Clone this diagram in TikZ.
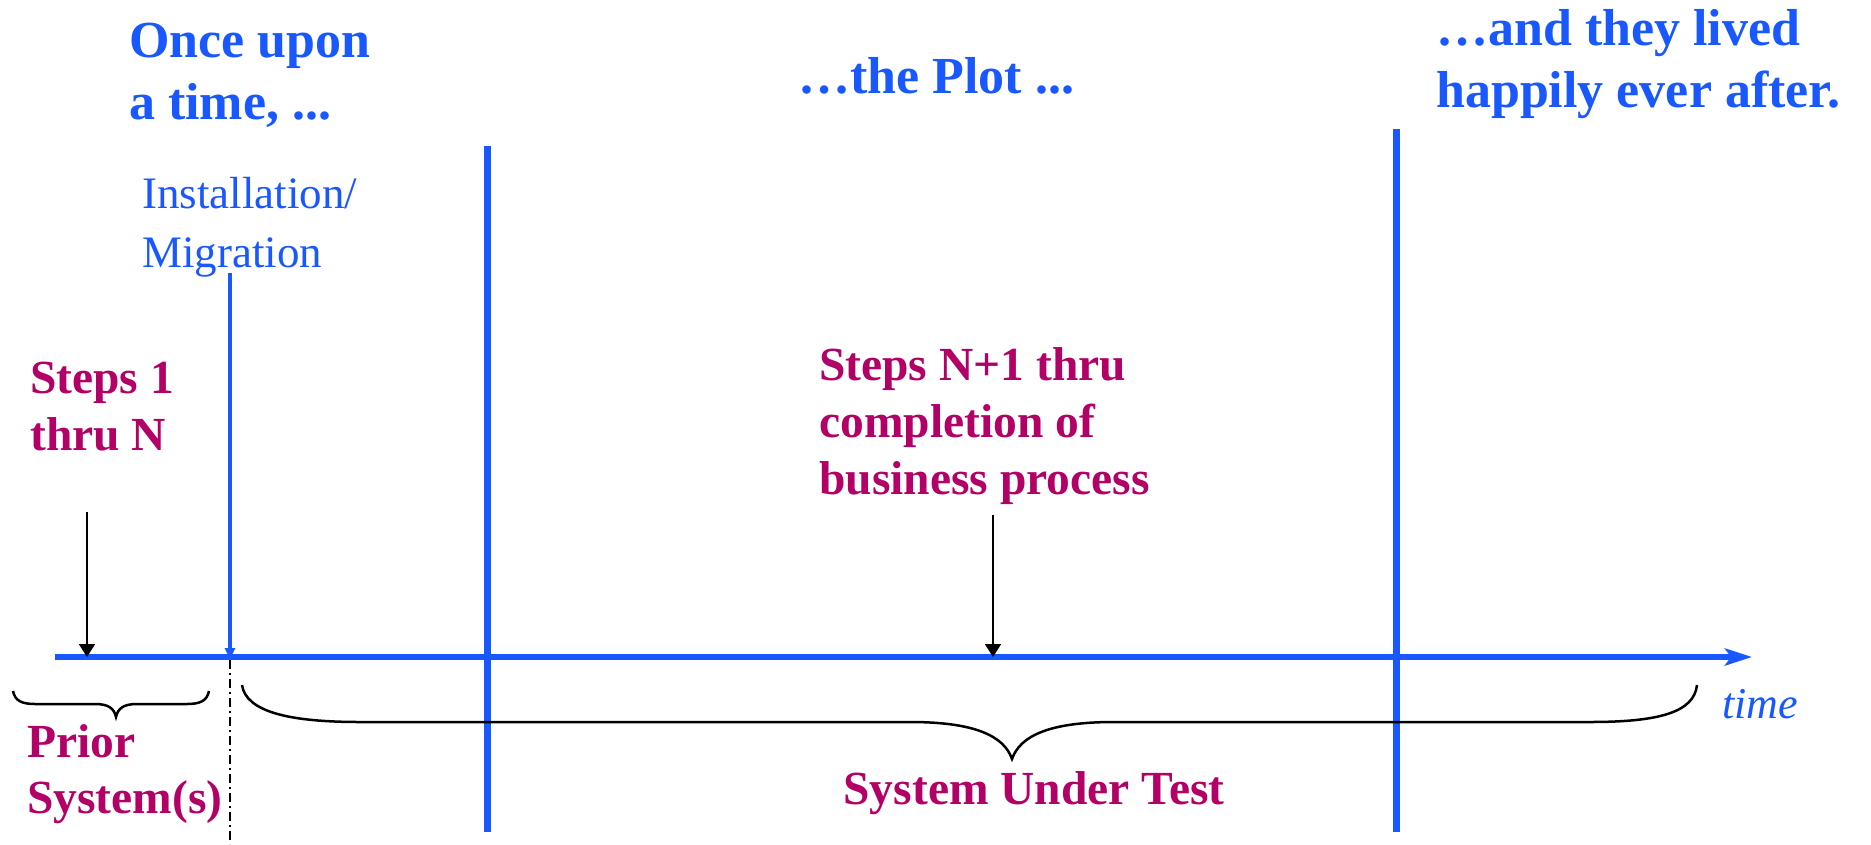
\documentclass[tikz,border=0pt]{standalone}
\usepackage{fontspec}
\setmainfont{Liberation Serif}
\usetikzlibrary{arrows.meta}
\definecolor{storyblue}{RGB}{25,88,255}
\definecolor{stepmag}{RGB}{178,0,102}
\tikzset{
  headtext/.style={anchor=base west, inner sep=0pt, align=left, text=storyblue,
    font=\fontsize{52}{62}\selectfont\bfseries},
  steptext/.style={anchor=base west, inner sep=0pt, align=left, text=stepmag,
    font=\fontsize{47.5}{57}\selectfont\bfseries},
  phasebar/.style={draw=storyblue, line width=7pt},
  stepptr/.style={draw=black, line width=2pt, -{Triangle[length=13pt,width=16pt]}},
  bracestyle/.style={draw=black, line width=2.5pt},
}
\begin{document}
\begin{tikzpicture}[x=1pt,y=-1pt]
\useasboundingbox (0,0) rectangle (1871,844);

% headings (multi-line nodes: base = last line's baseline)
\node[headtext] (once) at (129,119) {Once upon\\a time, ...};
\node[headtext] (plot) at (798,93) {…the Plot ...};
\node[headtext] (ever) at (1436,107) {…and they lived\\happily ever after.};

% installation label
\node[anchor=base west, inner sep=0pt, align=left, text=storyblue,
  font=\fontsize{45}{59}\selectfont] (inst) at (142,267) {Installation/\\Migration};

% step labels
\node[steptext] (s1) at (30,450) {Steps 1\\thru N};
\node[steptext] (s2) at (819,494) {Steps N+1 thru\\completion of\\business process};
\node[anchor=base west, inner sep=0pt, align=left, text=stepmag,
  font=\fontsize{47.5}{56}\selectfont\bfseries] (prior) at (27,813) {Prior\\System(s)};
\node[anchor=base, inner sep=0pt, text=stepmag,
  font=\fontsize{47.5}{57}\selectfont\bfseries] (sut) at (1034,804) {System Under Test};
\node[anchor=base west, inner sep=0pt, text=storyblue,
  font=\fontsize{44}{52}\selectfont\itshape] (timelbl) at (1722,718) {time};

% phase bars
\coordinate (b1t) at (487,146); \coordinate (b1b) at (487,832);
\coordinate (b2t) at (1396,129); \coordinate (b2b) at (1396,832);
\draw[phasebar] (b1t) -- (b1b);
\draw[phasebar] (b2t) -- (b2b);

% time axis
\coordinate (axs) at (55,657);
\coordinate (axe) at (1752,657);
\draw[storyblue, line width=6pt, -{Stealth[length=27pt,width=17pt,inset=6pt]}] (axs) -- (axe);

% installation line
\coordinate (instt) at (230,273);
\coordinate (insta) at (230,659);
\draw[storyblue, line width=4pt, -{Triangle[length=11pt,width=10pt]}] (instt) -- (insta);

% dash-dot line
\coordinate (dd1) at (230,660);
\coordinate (dd2) at (230,844);
\draw[black, line width=2pt, dash pattern=on 9pt off 4pt on 2pt off 4pt] (dd1) -- (dd2);

% step pointers
\coordinate (p1s) at (87,512); \coordinate (p1e) at (87,657);
\coordinate (p2s) at (993,515); \coordinate (p2e) at (993,657);
\draw[stepptr] (p1s) -- (p1e);
\draw[stepptr] (p2s) -- (p2e);

% small brace
\draw[bracestyle] (13,691) .. controls (15,701) and (22,704) .. (35,704) -- (95,704)
  .. controls (108,704) and (114,708) .. (116,717)
  .. controls (118,708) and (124,704) .. (137,704) -- (187,704)
  .. controls (200,704) and (207,701) .. (209,691);

% big brace
\draw[bracestyle] (242,685) .. controls (246,712) and (290,722) .. (360,722) -- (910,722)
  .. controls (975,722) and (1004,736) .. (1012,759)
  .. controls (1020,736) and (1049,722) .. (1114,722) -- (1590,722)
  .. controls (1660,722) and (1694,712) .. (1697,685);
\end{tikzpicture}
\end{document}
